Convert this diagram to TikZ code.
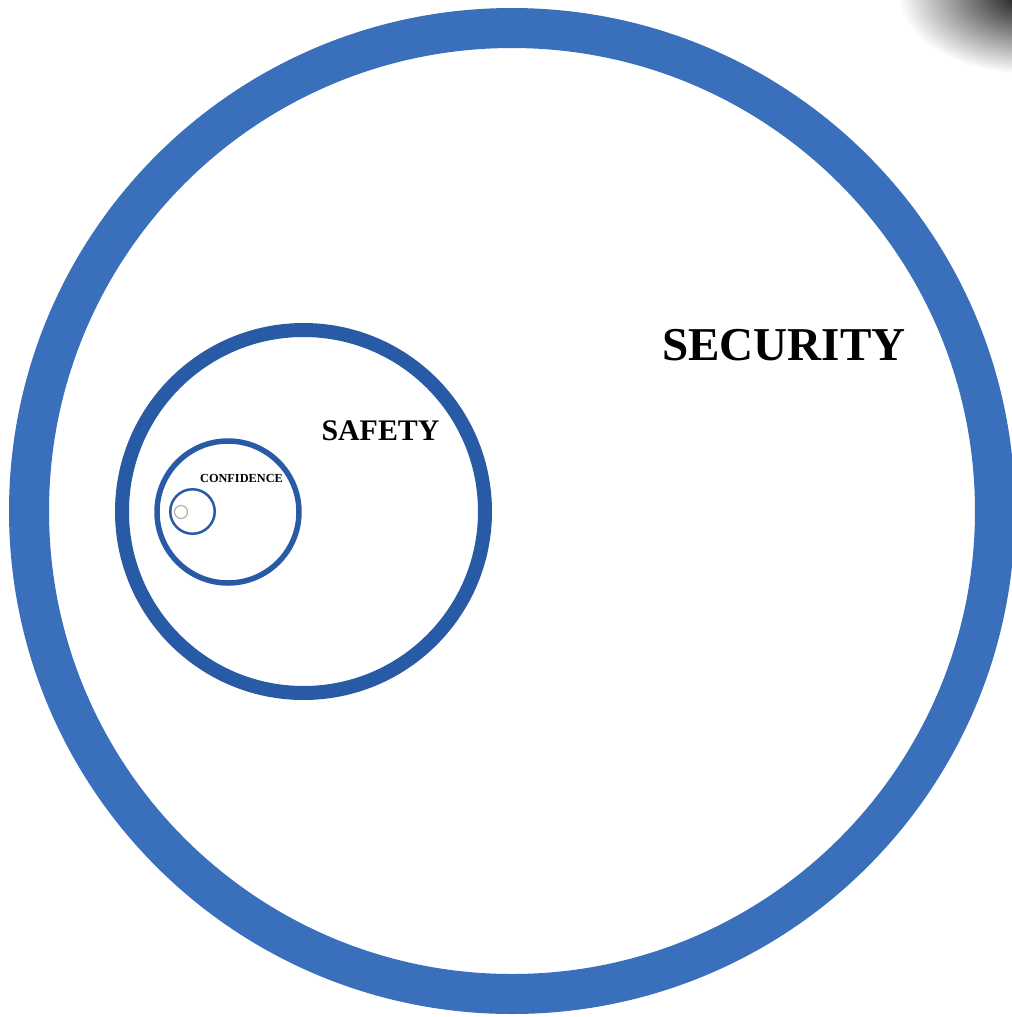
\documentclass[tikz,border=0pt]{standalone}
\usepackage{xcolor}
\usepackage{fontspec}
\setmainfont{Liberation Serif}
\usepackage{tikz}
\definecolor{outerblue}{RGB}{58, 111, 187}
\definecolor{innerblue}{RGB}{40, 90, 165}
\usetikzlibrary{positioning, shapes.geometric}

\begin{document}
\begin{tikzpicture}[
    x=0.1mm, y=-0.1mm,
    ring/.style={circle, draw, inner sep=0pt, outer sep=0pt},
    tag/.style={font=\bfseries, text=black, inner sep=0pt}
]
    \useasboundingbox (0,0) rectangle (1011,1017);

    % shadow in the corner
    \shade[inner color=black!95, outer color=white] (1028,-6) ellipse (13mm and 8mm);

    % nested rings
    \node[ring, draw=outerblue, line width=4mm, minimum size=96.6mm] (security) at (512,511) {};
    \node[ring, draw=innerblue, line width=1.4mm, minimum size=36.3mm] (safety) at (303.5,511.5) {};
    \node[ring, draw=innerblue, line width=0.55mm, minimum size=14.2mm] (confidence) at (228,512) {};
    \node[ring, draw=innerblue, line width=0.25mm, minimum size=4.45mm] (inner1) at (192.5,511.5) {};
    \node[ring, draw=gray!70, line width=0.1mm, minimum size=1.3mm] (inner2) at (181,512) {};

    % labels
    \node[tag, font=\bfseries\fontsize{13.4}{16}\selectfont] (securitytag) at (784,345) {SECURITY};
    \node[tag, font=\bfseries\fontsize{8.5}{10}\selectfont] (safetytag) at (380.5,430.5) {SAFETY};
    \node[tag, font=\bfseries\fontsize{3.5}{4}\selectfont] (confidencetag) at (241.5,478.5) {CONFIDENCE};
\end{tikzpicture}
\end{document}
